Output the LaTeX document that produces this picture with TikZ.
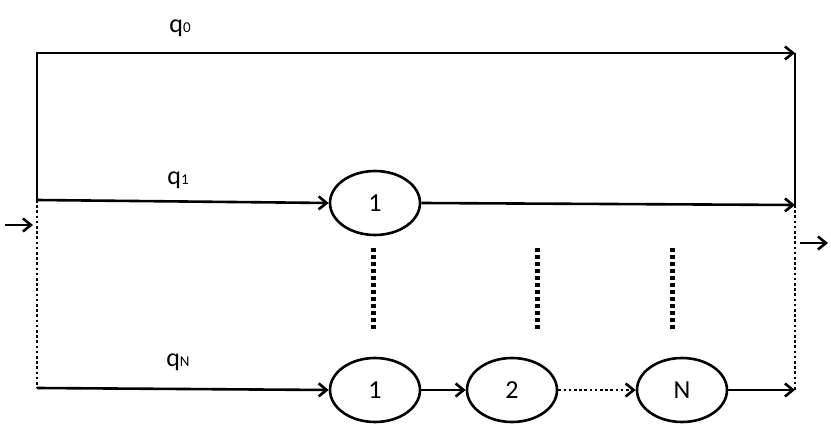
\documentclass[tikz,border=0pt]{standalone}
\usepackage{fontspec}
\setmainfont{Carlito}
\usetikzlibrary{arrows.meta,shapes.geometric}
\begin{document}
\begin{tikzpicture}[x=1pt,y=-1pt,line width=2.6pt,>={Straight Barb[length=8pt,width=13pt]}]

%
% Styles
%
\tikzset{state/.style={ellipse,draw,line width=2.6pt,minimum width=90pt,minimum height=64pt,inner sep=0pt,font=\fontsize{26}{30}\selectfont}}
\tikzset{lbl/.style={font=\fontsize{26}{30}\selectfont}}
\tikzset{sub/.style={font=\fontsize{15}{18}\selectfont}}
\tikzset{vdots/.style={line width=5pt,dash pattern=on 4pt off 3pt}}
\tikzset{dots/.style={dash pattern=on 2.6pt off 2.6pt}}

\useasboundingbox (0,0) rectangle (831,435);

\node[state] (a1) at (375,203) {1};
\node[state] (b1) at (375,390) {1};
\node[state] (b2) at (512,390) {2};
\node[state] (bN) at (682,390) {N};

\coordinate (lt) at (37,53);
\coordinate (lm) at (37,200);
\coordinate (lb) at (37,388);
\coordinate (rt) at (795,53);
\coordinate (rm) at (795,205);
\coordinate (rb) at (795,390);
\coordinate (in0) at (5,225);
\coordinate (in1) at (33,225);
\coordinate (out0) at (800,243);
\coordinate (out1) at (828,243);

\node[lbl] (q0) at (180,28) {q{\fontsize{15}{18}\selectfont 0}};
\node[lbl] (q1) at (178,180) {q{\fontsize{15}{18}\selectfont 1}};
\node[lbl] (qN) at (178,362) {q{\fontsize{15}{18}\selectfont N}};

% paths
\draw[->] (lm) -- (lt) -- (rt);
\draw (rt) -- (rm);
\draw[->] (lm) -- (a1.west);
\draw[->] (a1.east) -- (rm);
\draw[dots] (lm) -- (lb);
\draw[dots] (rm) -- (rb);
\draw[->] (lb) -- (b1.west);
\draw[->] (b1.east) -- (b2.west);
\draw[dots,->] (b2.east) -- (bN.west);
\draw[->] (bN.east) -- (rb);
\draw[->] (in0) -- (in1);
\draw[->] (out0) -- (out1);

% vertical dots
\draw[vdots] (373,248) -- (373,330);
\draw[vdots] (537,248) -- (537,330);
\draw[vdots] (672,248) -- (672,330);

\end{tikzpicture}
\end{document}
